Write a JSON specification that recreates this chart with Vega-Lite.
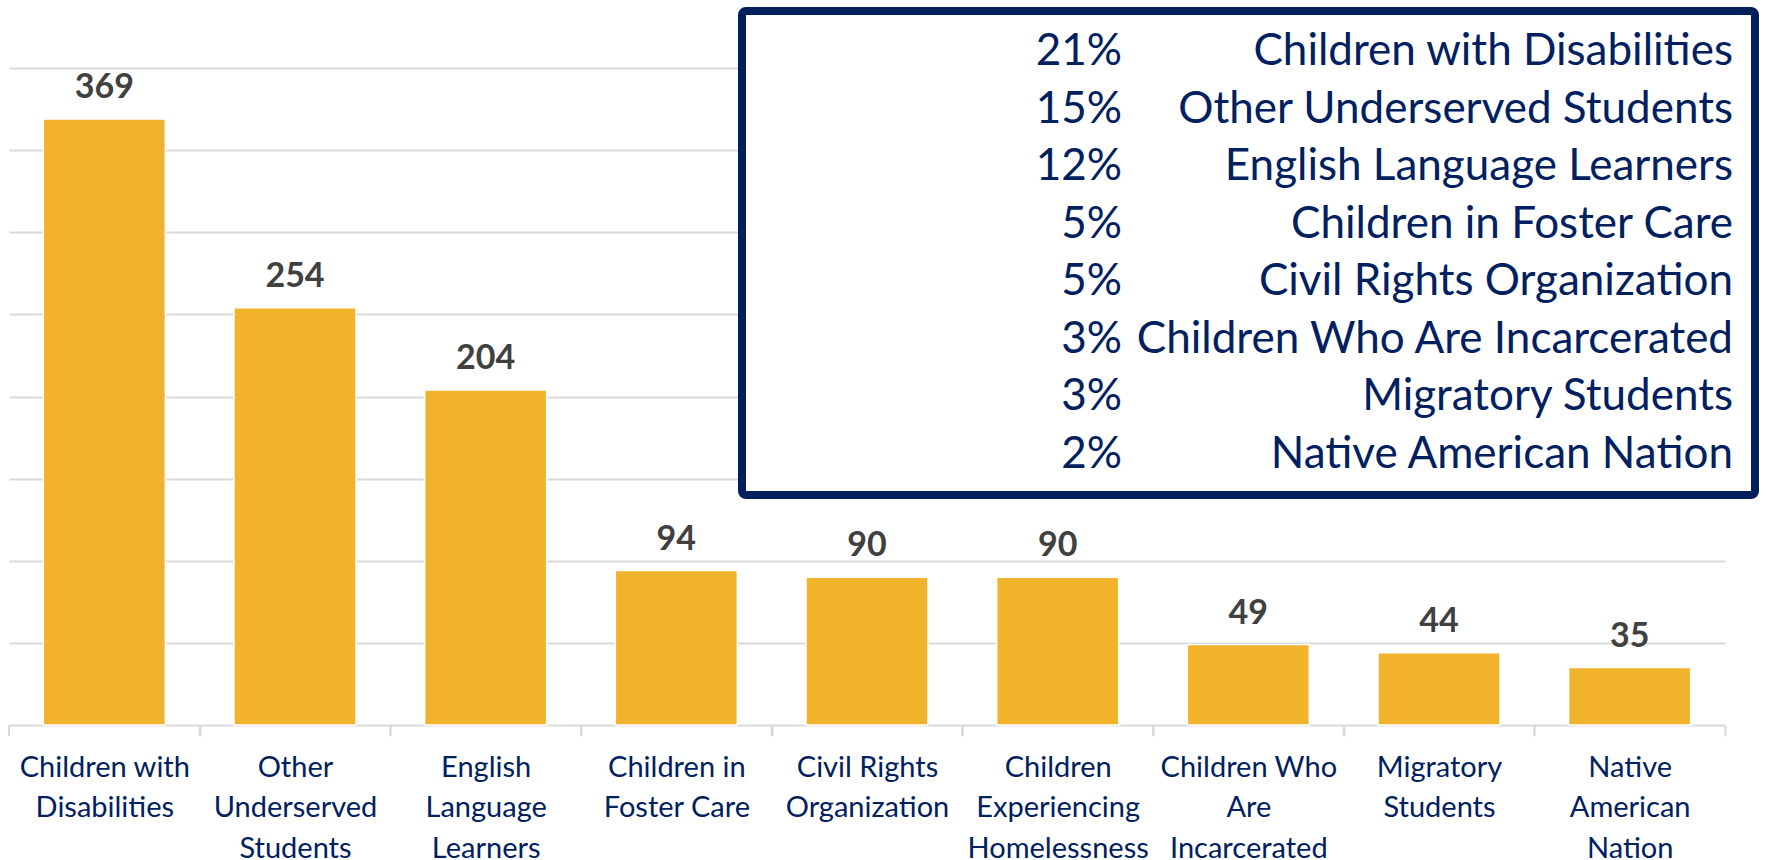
{
  "$schema": "https://vega.github.io/schema/vega-lite/v6.json",
  "width": 1716,
  "height": 657,
  "autosize": {"type": "none"},
  "padding": {"left": 9, "top": 68, "right": 43, "bottom": 135},
  "background": "white",
  "config": {"view": {"stroke": null}, "font": "Lato"},
  "datasets": {
    "groups": [
      {"group": "Children with\nDisabilities", "count": 369},
      {"group": "Other\nUnderserved\nStudents", "count": 254},
      {"group": "English\nLanguage\nLearners", "count": 204},
      {"group": "Children in\nFoster Care", "count": 94},
      {"group": "Civil Rights\nOrganization", "count": 90},
      {"group": "Children\nExperiencing\nHomelessness", "count": 90},
      {"group": "Children Who\nAre\nIncarcerated", "count": 49},
      {"group": "Migratory\nStudents", "count": 44},
      {"group": "Native\nAmerican\nNation", "count": 35}
    ],
    "shares": [
      {"share": "21%", "name": "Children with Disabilities"},
      {"share": "15%", "name": "Other Underserved Students"},
      {"share": "12%", "name": "English Language Learners"},
      {"share": "5%", "name": "Children in Foster Care"},
      {"share": "5%", "name": "Civil Rights Organization"},
      {"share": "3%", "name": "Children Who Are Incarcerated"},
      {"share": "3%", "name": "Migratory Students"},
      {"share": "2%", "name": "Native American Nation"}
    ],
    "box": [{"part": "box"}]
  },
  "layer": [
    {
      "data": {"name": "groups"},
      "encoding": {
        "x": {
          "field": "group",
          "type": "nominal",
          "sort": null,
          "scale": {"paddingInner": 0.36, "paddingOuter": 0.18},
          "axis": {
            "title": null,
            "labelAngle": 0,
            "labelExpr": "datum.value ? split(datum.value, '\\n') : ''",
            "labelFont": "Lato",
            "labelFontSize": 29,
            "labelColor": "#002060",
            "labelLineHeight": 40.6,
            "labelPadding": 17,
            "labelLimit": 0,
            "bandPosition": 1,
            "tickOffset": 34.32,
            "labelOffset": -34.32,
            "tickSize": 11,
            "tickColor": "#d9d9d9",
            "tickWidth": 2,
            "domainColor": "#d9d9d9",
            "domainWidth": 2,
            "grid": false
          }
        },
        "y": {
          "field": "count",
          "type": "quantitative",
          "scale": {"domain": [0, 400], "nice": false},
          "axis": {
            "title": null,
            "values": [50, 100, 150, 200, 250, 300, 350, 400],
            "labels": false,
            "ticks": false,
            "domain": false,
            "grid": true,
            "gridColor": "#d9d9d9",
            "gridWidth": 2
          }
        }
      },
      "layer": [
        {"mark": {"type": "bar", "color": "#F1B32C", "stroke": "white", "strokeWidth": 1.5}},
        {
          "mark": {"type": "text", "baseline": "alphabetic", "dy": -21, "font": "Lato", "fontWeight": "bold", "fontSize": 34, "color": "#404040"},
          "encoding": {"text": {"field": "count", "type": "quantitative"}}
        },
        {
          "mark": {"type": "rule", "color": "#d9d9d9", "strokeWidth": 2, "xOffset": -34.32, "y2Offset": 11},
          "encoding": {
            "x": {"field": "group", "type": "nominal", "sort": null, "bandPosition": 0},
            "y": {"datum": 0},
            "y2": {"datum": 0}
          }
        }
      ]
    },
    {
      "data": {"name": "box"},
      "mark": {"type": "rect", "fill": "white", "stroke": "#00205B", "strokeWidth": 8, "cornerRadius": 4},
      "encoding": {
        "x": {"field": "part", "type": "nominal", "scale": {"type": "band", "range": [733, 1746], "paddingInner": 0, "paddingOuter": 0}, "axis": null},
        "y": {"field": "part", "type": "nominal", "scale": {"type": "band", "range": [-57, 427], "paddingInner": 0, "paddingOuter": 0}, "axis": null}
      }
    },
    {
      "data": {"name": "shares"},
      "transform": [{"fold": ["share", "name"]}],
      "mark": {"type": "text", "align": "right", "baseline": "alphabetic", "font": "Lato", "fontSize": 44, "color": "#002060"},
      "encoding": {
        "x": {"field": "key", "type": "nominal", "scale": {"type": "point", "domain": ["share", "name"], "range": [1113, 1724], "padding": 0}, "axis": null},
        "y": {"field": "name", "type": "nominal", "sort": null, "scale": {"type": "point", "range": [-3, 399.5], "padding": 0}, "axis": null},
        "text": {"field": "value"}
      }
    }
  ],
  "resolve": {"scale": {"x": "independent", "y": "independent"}}
}
